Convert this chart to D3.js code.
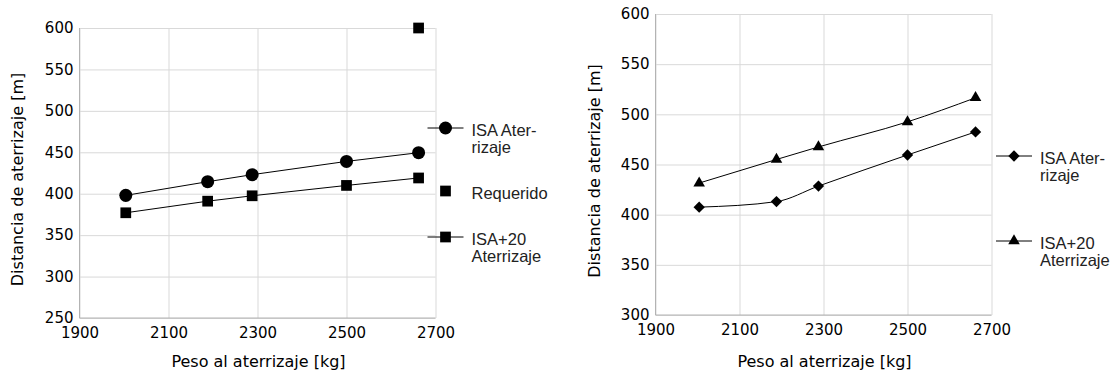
<!DOCTYPE html>
<html>
<head>
<meta charset="utf-8">
<script src="https://cdn.jsdelivr.net/npm/d3@7"></script>
<style>
  body { margin: 0; background: #fff; }
  .tick text { font-family: "DejaVu Sans", sans-serif; font-size: 15px; fill: #000; }
  .titulo { font-family: "DejaVu Sans", sans-serif; font-size: 16px; fill: #000; }
  .leyenda { font-family: "Liberation Sans", Arial, sans-serif; font-size: 16.5px; fill: #222; }
</style>
</head>
<body>
<div id="chart"></div>
<script>
// datos
var pesos = [2004, 2188, 2288, 2500, 2662];
var izqIsa = [398, 414.5, 423, 439, 449.5];
var izqIsa20 = [377, 391, 397.5, 410, 419];
var requeridoPeso = [2662];
var requerido = [600];
var derIsa = [407.5, 413, 428.5, 459.5, 482.5];
var derIsa20 = [431.5, 455, 467.5, 492.5, 516.5];
var xTicks = [1900, 2100, 2300, 2500, 2700];
var izqYTicks = [250, 300, 350, 400, 450, 500, 550, 600];
var derYTicks = [300, 350, 400, 450, 500, 550, 600];

var svg = d3.select("#chart").append("svg")
  .attr("width", 1117)
  .attr("height", 379);

function pares(xs, ys) {
  return xs.map(function(x, i) { return {x: x, y: ys[i]}; });
}

var simbolos = {
  circulo: d3.symbol().type(d3.symbolCircle).size(133),
  cuadrado: d3.symbol().type(d3.symbolSquare).size(115),
  rombo: d3.symbol().type(d3.symbolSquare).size(64),
  triangulo: d3.symbol().type(d3.symbolTriangle).size(58)
};

function marcador(g, tipo, cx, cy) {
  g.append("path")
    .attr("d", simbolos[tipo]())
    .attr("transform", "translate(" + cx + "," + cy + ")" + (tipo == "rombo" ? " rotate(45)" : ""))
    .attr("fill", "#000");
}

function panel(cfg) {
  var x = d3.scaleLinear().domain([1900, 2700]).range(cfg.xr);
  var y = d3.scaleLinear().domain(cfg.yd).range(cfg.yr);
  var w = cfg.xr[1] - cfg.xr[0];
  var h = cfg.yr[0] - cfg.yr[1];
  var g = svg.append("g");

  // rejilla
  g.append("g")
    .attr("transform", "translate(0," + cfg.yr[0] + ")")
    .call(d3.axisBottom(x).tickValues(xTicks).tickSize(-h).tickPadding(9).tickFormat(d3.format("d")))
    .call(function(a) {
      a.select(".domain").remove();
      a.selectAll("line").attr("stroke", "#d9d9d9");
    });
  g.append("g")
    .attr("transform", "translate(" + cfg.xr[0] + ",0)")
    .call(d3.axisLeft(y).tickValues(cfg.yTicks).tickSize(-w).tickPadding(6))
    .call(function(a) {
      a.select(".domain").remove();
      a.selectAll("line").attr("stroke", "#d9d9d9");
    });
  // ejes
  g.append("line").attr("x1", cfg.xr[0]).attr("x2", cfg.xr[0]).attr("y1", cfg.yr[1]).attr("y2", cfg.yr[0])
    .attr("stroke", "#b3b3b3");
  g.append("line").attr("x1", cfg.xr[0]).attr("x2", cfg.xr[1]).attr("y1", cfg.yr[0]).attr("y2", cfg.yr[0])
    .attr("stroke", "#b3b3b3");

  cfg.series.forEach(function(s) {
    var datos = pares(s.xs, s.ys);
    if (s.linea) {
      g.append("path")
        .datum(datos)
        .attr("fill", "none")
        .attr("stroke", "#000")
        .attr("stroke-width", 1)
        .attr("d", d3.line().x(function(d) { return x(d.x); }).y(function(d) { return y(d.y); }).curve(s.curva || d3.curveLinear));
    }
    datos.forEach(function(d) { marcador(g, s.tipo, x(d.x), y(d.y)); });

    // leyenda
    var ly = s.ley[1];
    if (s.linea) {
      g.append("line").attr("x1", s.ley[0] - 18).attr("x2", s.ley[0] + 18).attr("y1", ly).attr("y2", ly)
        .attr("stroke", "#000");
    }
    marcador(g, s.tipo, s.ley[0], ly);
    var t = g.append("text").attr("class", "leyenda").attr("x", s.ley[0] + 26).attr("y", ly + 8);
    s.nombre.forEach(function(n, i) {
      t.append("tspan").attr("x", s.ley[0] + 26).attr("dy", i == 0 ? 0 : 17).text(n);
    });
  });

  g.append("text").attr("class", "titulo")
    .attr("text-anchor", "middle")
    .attr("x", (cfg.xr[0] + cfg.xr[1]) / 2 + 1)
    .attr("y", 367)
    .text("Peso al aterrizaje [kg]");
  g.append("text").attr("class", "titulo")
    .attr("text-anchor", "middle")
    .attr("transform", "translate(" + cfg.ytx + "," + ((cfg.yr[0] + cfg.yr[1]) / 2 + 6.5) + ") rotate(-90)")
    .text("Distancia de aterrizaje [m]");
}

panel({
  xr: [79.5, 435.5], yd: [250, 600], yr: [318, 28], yTicks: izqYTicks, ytx: 23,
  series: [
    {xs: pesos, ys: izqIsa, tipo: "circulo", linea: true, nombre: ["ISA Ater-", "rizaje"], ley: [445.5, 128]},
    {xs: requeridoPeso, ys: requerido, tipo: "cuadrado", linea: false, nombre: ["Requerido"], ley: [445.5, 191]},
    {xs: pesos, ys: izqIsa20, tipo: "cuadrado", linea: true, nombre: ["ISA+20", "Aterrizaje"], ley: [445.5, 237]}
  ]
});

panel({
  xr: [655.5, 991.5], yd: [300, 600], yr: [315, 14], yTicks: derYTicks, ytx: 600,
  series: [
    {xs: pesos, ys: derIsa, tipo: "rombo", linea: true, curva: d3.curveMonotoneX, nombre: ["ISA Ater-", "rizaje"], ley: [1014, 156]},
    {xs: pesos, ys: derIsa20, tipo: "triangulo", linea: true, curva: d3.curveMonotoneX, nombre: ["ISA+20", "Aterrizaje"], ley: [1014, 241]}
  ]
});
</script>
</body>
</html>
